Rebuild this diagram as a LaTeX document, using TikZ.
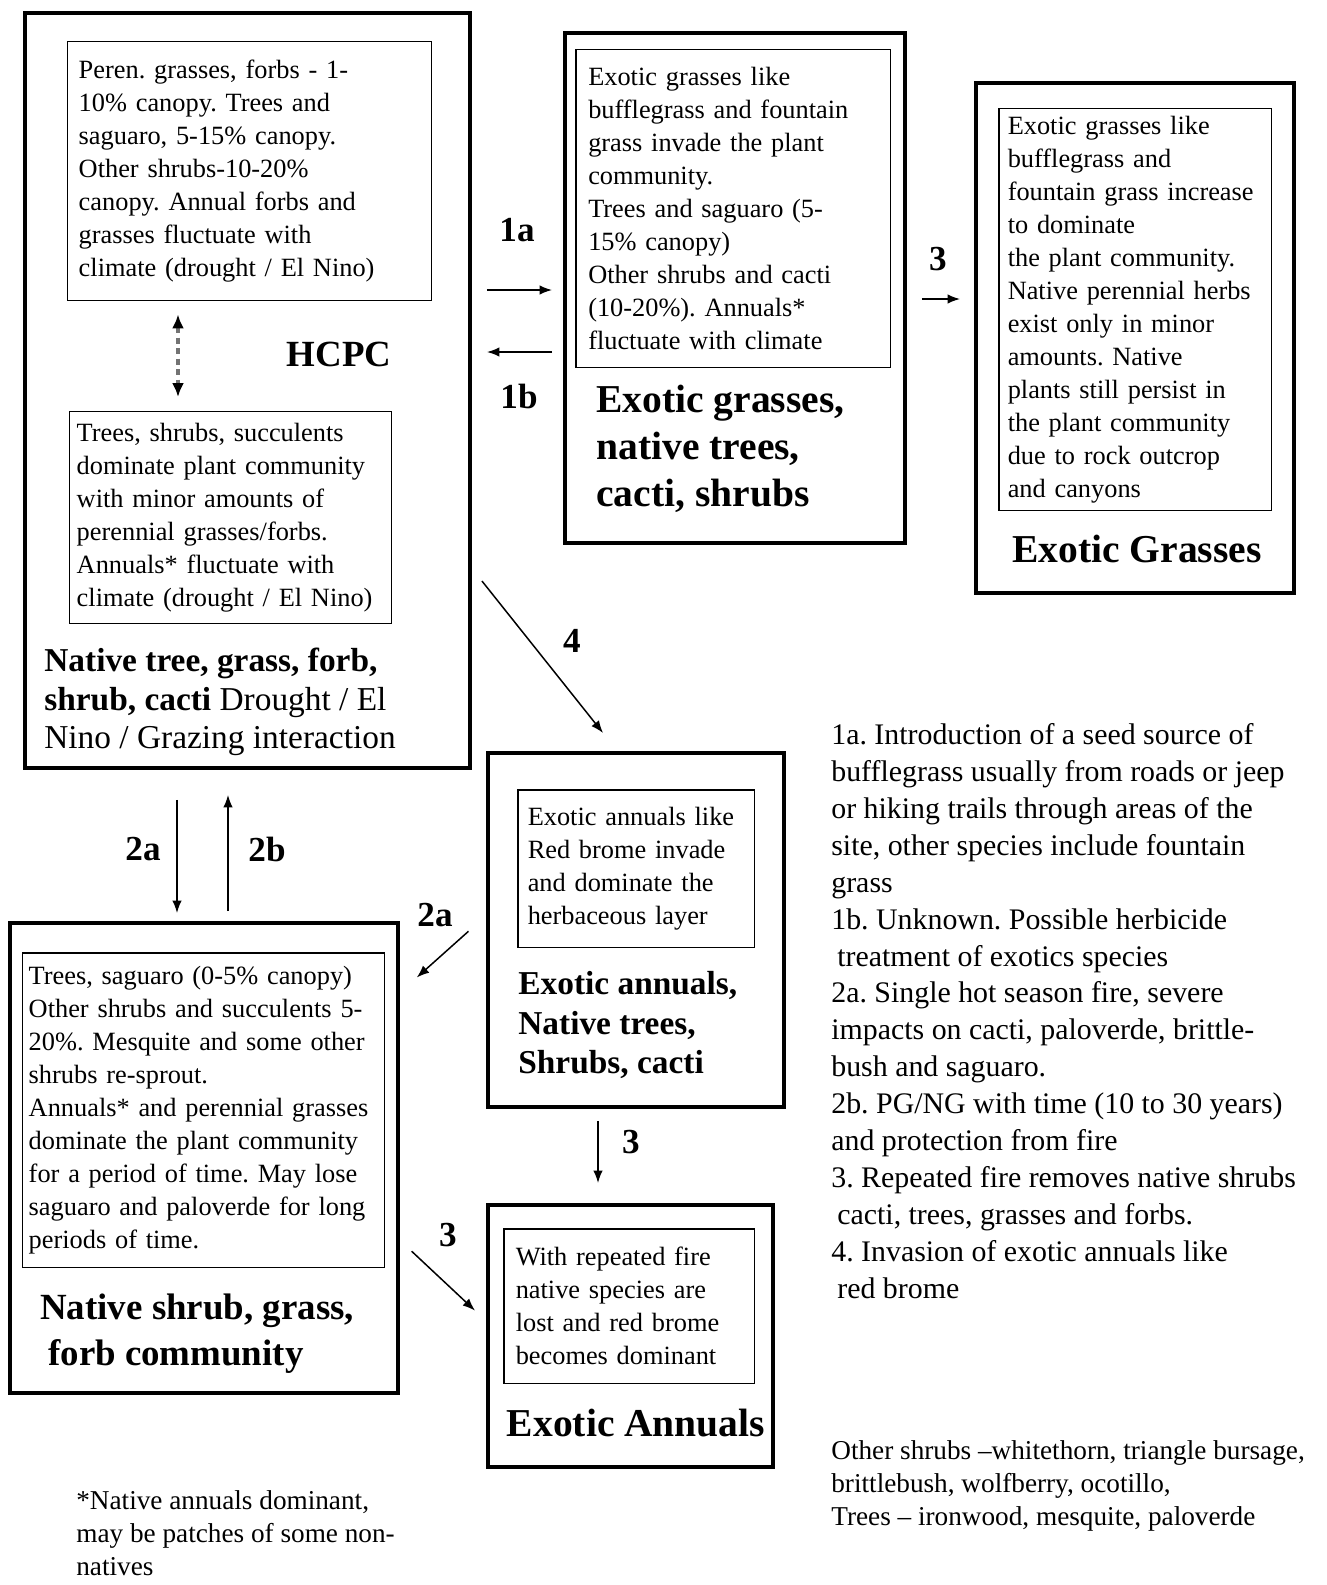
\documentclass[tikz,border=0pt]{standalone}
\usepackage{fontspec}
\setmainfont{Liberation Serif}
\usetikzlibrary{arrows.meta}
\frenchspacing

\newcommand\boxfont{\fontsize{15}{18.8}\selectfont}
\newcommand\notefont{\fontsize{17}{21}\selectfont}
\newcommand\smallnote{\fontsize{15.5}{18.6}\selectfont}

\begin{document}
\begin{tikzpicture}
		[
		x = 0.02cm, y = -0.02cm,
		stateframe/.style = {draw, line width=2.3pt, inner sep=0pt},
		textframe/.style = {draw, line width=0.85pt, anchor=north west, align=left, inner ysep=0pt, font=\boxfont},
		trans/.style = {line width=0.85pt, -{Latex[length=0.25cm, width=0.19cm]}},
		translabel/.style = {font=\fontsize{20}{24}\selectfont\bfseries},
		freetext/.style = {align=left, inner sep=0pt},
		]
		
		\useasboundingbox (0,0) rectangle (1326,1585);
		
		% state boxes
		\node[stateframe, minimum width=8.9cm, minimum height=15.1cm] (hcpc) at (247.5,390.5) {};
		\node[stateframe, minimum width=6.8cm, minimum height=10.2cm] (exg) at (735,288) {};
		\node[stateframe, minimum width=6.36cm, minimum height=10.2cm] (exgr) at (1135,338) {};
		\node[stateframe, minimum width=5.92cm, minimum height=7.08cm] (exan) at (636,930) {};
		\node[stateframe, minimum width=5.7cm, minimum height=5.24cm] (exa) at (630.5,1336) {};
		\node[stateframe, minimum width=7.76cm, minimum height=9.4cm] (nsg) at (204,1158) {};
		
		% HCPC
		\node[textframe, inner xsep=0.22cm, text width=6.84cm, minimum height=5.18cm] (hcpctop) at (67,41)
		{Peren. grasses, forbs - 1-\\10\%  canopy. Trees and\\saguaro, 5-15\% canopy.\\Other shrubs-10-20\%\\canopy. Annual forbs and\\grasses fluctuate with\\climate (drought / El Nino)};
		\node[textframe, inner xsep=0.14cm, text width=6.16cm, minimum height=4.24cm] (hcpcbot) at (69,411)
		{Trees, shrubs, succulents\\dominate plant community\\with minor amounts of\\perennial grasses/forbs.\\Annuals* fluctuate with\\climate (drought / El Nino)};
		\draw[line width=2pt, black!55, dash pattern=on 3.5pt off 2.5pt, {Latex[black, length=0.28cm, width=0.24cm]}-{Latex[black, length=0.28cm, width=0.24cm]}, shorten <=0.26cm, shorten >=0.28cm]
		(hcpctop.south -| 178,0) -- (hcpcbot.north -| 178,0);
		\node[font=\fontsize{21}{24}\selectfont\bfseries] (hcpclabel) at (339,354) {HCPC};
		\node[freetext, anchor=west, font=\fontsize{19}{21.8}\selectfont] (hcpctitle) at (44,702)
		{\textbf{Native tree, grass, forb,}\\\textbf{shrub, cacti} Drought / El\\Nino / Grazing interaction};
		
		% exotic grasses, native trees
		\node[textframe, inner xsep=0.25cm, text width=5.8cm, minimum height=6.36cm] (exgtext) at (575,49)
		{Exotic grasses like\\bufflegrass and fountain\\grass invade the plant\\community.\\Trees and saguaro (5-\\15\% canopy)\\Other shrubs and cacti\\(10-20\%). Annuals*\\fluctuate with climate};
		\node[freetext, anchor=west, font=\fontsize{22.5}{26.6}\selectfont\bfseries] (exgtitle) at (596,449)
		{Exotic grasses,\\native trees,\\cacti, shrubs};
		
		% exotic grasses
		\node[textframe, inner xsep=0.18cm, text width=5.1cm, minimum height=8.04cm] (exgrtext) at (998,108)
		{Exotic grasses like\\bufflegrass and\\fountain grass increase\\to dominate\\the plant community.\\Native perennial herbs\\exist only in minor\\amounts. Native\\plants still persist in\\the plant community\\due to rock outcrop\\and canyons};
		\node[font=\fontsize{22.5}{26.6}\selectfont\bfseries] (exgrtitle) at (1137,549) {Exotic Grasses};
		
		% exotic annuals, native trees
		\node[textframe, inner xsep=0.2cm, text width=4.34cm, minimum height=3.16cm] (exantext) at (517,789)
		{Exotic annuals like\\Red brome invade\\and dominate the\\herbaceous layer};
		\node[freetext, anchor=west, font=\fontsize{19}{22.7}\selectfont\bfseries] (exantitle) at (518,1025)
		{Exotic annuals,\\Native trees,\\Shrubs, cacti};
		
		% exotic annuals
		\node[textframe, inner xsep=0.24cm, text width=4.54cm, minimum height=3.1cm] (exatext) at (503,1228)
		{With repeated fire\\native species are\\lost and red brome\\becomes dominant};
		\node[font=\fontsize{22.5}{26.6}\selectfont\bfseries] (exatitle) at (636,1423) {Exotic Annuals};
		
		% native shrub, grass, forb
		\node[textframe, inner xsep=0.12cm, text width=7.0cm, minimum height=6.3cm] (nsgtext) at (22,952)
		{Trees, saguaro (0-5\% canopy)\\Other shrubs and succulents 5-\\20\%. Mesquite and some other\\shrubs re-sprout.\\Annuals* and perennial grasses\\dominate  the plant community\\for a period of time. May lose\\saguaro and paloverde for long\\periods of time.};
		\node[freetext, anchor=west, font=\fontsize{21}{26}\selectfont\bfseries] (nsgtitle) at (40,1334)
		{Native shrub, grass,\\\hspace*{0.16cm}forb community};
		
		% transitions
		\draw[trans, shorten <=0.3cm, shorten >=0.22cm] (hcpc.east |- 0,290) -- (exg.west |- 0,290);
		\draw[trans, shorten <=0.22cm, shorten >=0.3cm] (exg.west |- 0,352) -- (hcpc.east |- 0,352);
		\draw[trans, shorten <=0.3cm, shorten >=0.28cm] (exg.east |- 0,299) -- (exgr.west |- 0,299);
		\draw[trans, shorten <=0.32cm, shorten >=0.46cm] (hcpc.east |- 0,568.5) -- (exan.north -| 617.4,0);
		\draw[trans, shorten <=0.6cm, shorten >=0.16cm] (hcpc.south -| 177,0) -- (nsg.north -| 177,0);
		\draw[trans, shorten <=0.2cm, shorten >=0.5cm] (nsg.north -| 228,0) -- (hcpc.south -| 228,0);
		\draw[trans, shorten <=0.47cm, shorten >=0.45cm] (exan.west |- 0,915.6) -- (nsg.east |- 0,992.5);
		\draw[trans, shorten <=0.24cm, shorten >=0.4cm] (exan.south -| 598,0) -- (exa.north -| 598,0);
		\draw[trans, shorten <=0.32cm, shorten >=0.3cm] (nsg.east |- 0,1240.3) -- (exa.west |- 0,1320.9);
		
		\node[translabel] (l1a) at (517,230) {1a};
		\node[translabel] (l1b) at (519,396) {1b};
		\node[translabel] (l3a) at (938,259) {3};
		\node[translabel] (l4) at (572,641) {4};
		\node[translabel] (l2a) at (143,849) {2a};
		\node[translabel] (l2b) at (267,849) {2b};
		\node[translabel] (l2c) at (435,915) {2a};
		\node[translabel] (l3b) at (631,1142) {3};
		\node[translabel] (l3c) at (448,1235) {3};
		
		% notes
		\node[freetext, anchor=west, font=\notefont] (notes) at (831,1011)
		{1a. Introduction of a seed source of\\bufflegrass usually from roads or jeep\\or hiking trails  through areas of  the\\site, other species include fountain\\grass\\1b. Unknown. Possible herbicide\\\hspace*{0.12cm}treatment of exotics species\\2a. Single hot season fire, severe\\impacts on cacti, paloverde, brittle-\\bush and saguaro.\\2b. PG/NG with time (10 to 30 years)\\and protection from fire\\3. Repeated fire removes native shrubs\\\hspace*{0.12cm}cacti, trees, grasses and forbs.\\4. Invasion of exotic annuals like\\\hspace*{0.12cm}red brome};
		\node[freetext, anchor=west, font=\smallnote] (species) at (831,1486)
		{Other shrubs --whitethorn, triangle bursage,\\brittlebush, wolfberry, ocotillo,\\Trees -- ironwood, mesquite, paloverde};
		\node[freetext, anchor=west, font=\smallnote] (footnote) at (76,1533)
		{*Native annuals dominant,\\may be patches of some non-\\natives};
		
		\end{tikzpicture}
\end{document}
